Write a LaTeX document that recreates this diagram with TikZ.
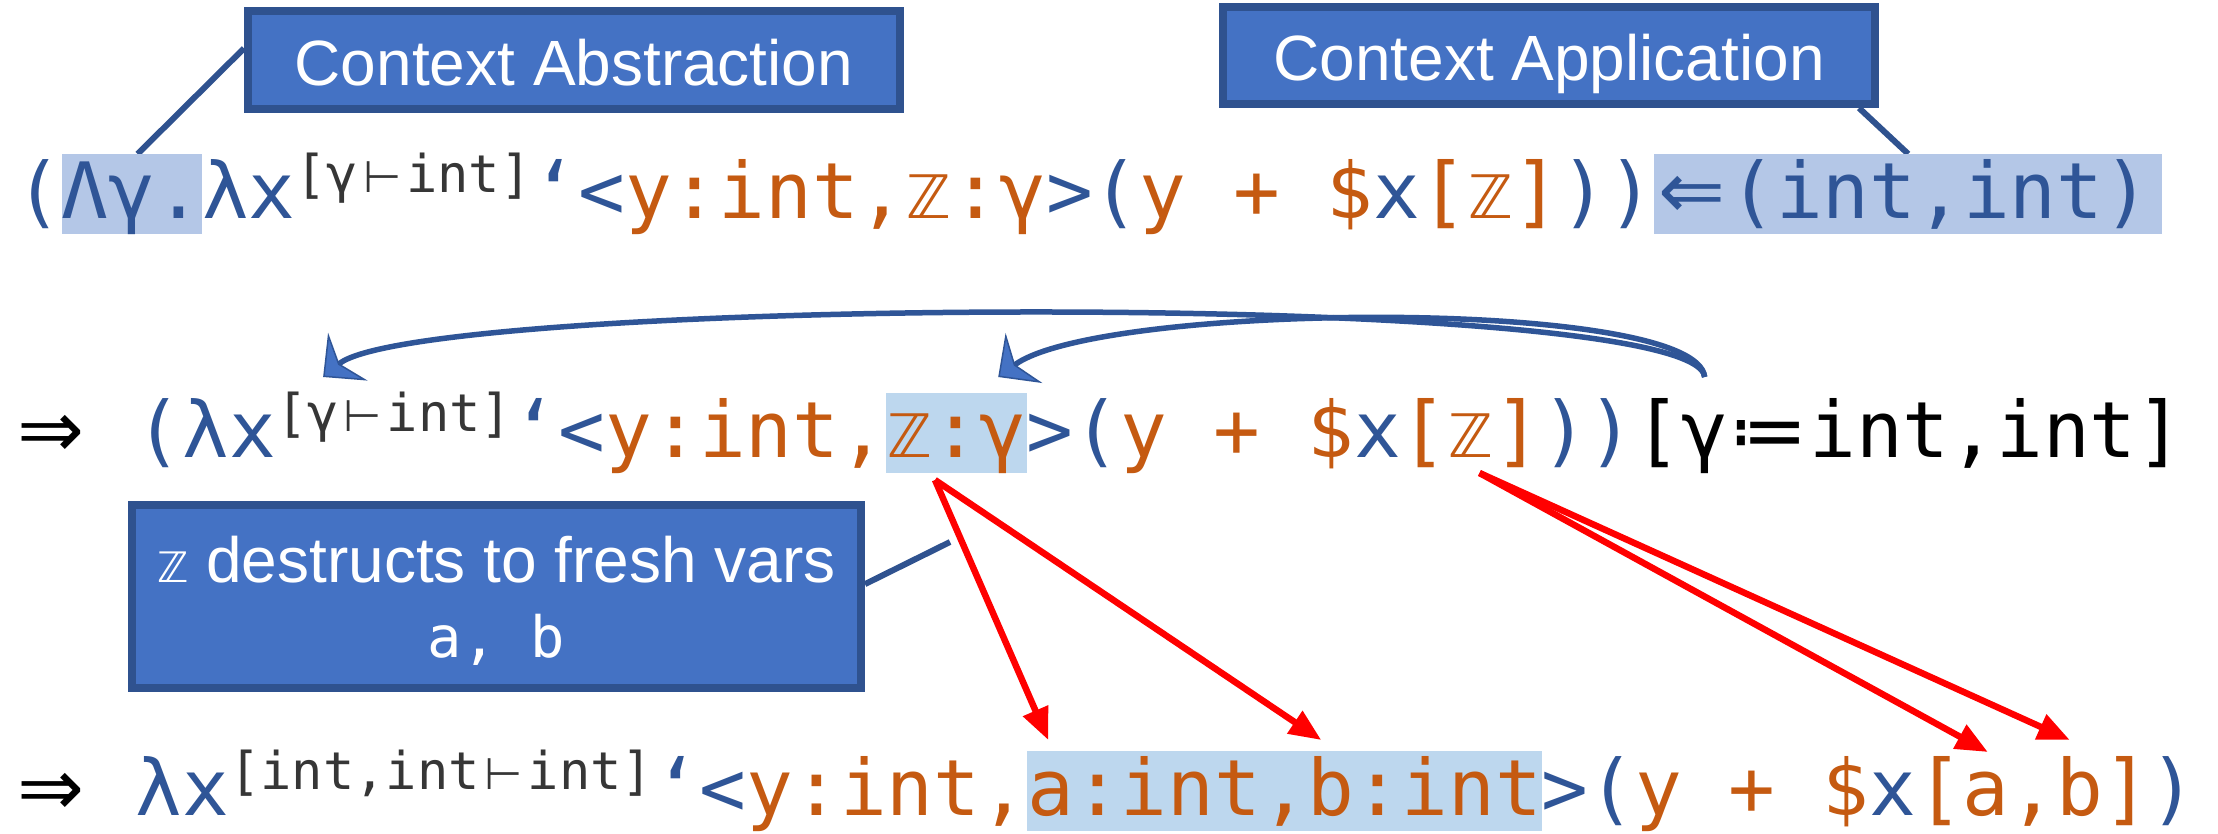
\documentclass[tikz,border=0pt]{standalone}
\usepackage{fontspec}
\setmainfont{Liberation Sans}
\newfontfamily\monof{DejaVu Sans Mono}
\newfontfamily\symf{DejaVu Sans}
\usetikzlibrary{arrows.meta,calc}

\definecolor{cblue}{HTML}{2F5597}
\definecolor{corange}{HTML}{C55A11}
\definecolor{csup}{HTML}{363636}
\definecolor{hlA}{HTML}{B4C7E7}
\definecolor{hlB}{HTML}{BDD7EE}
\definecolor{boxfill}{HTML}{4472C4}
\definecolor{boxline}{HTML}{2F528F}
\definecolor{cred}{HTML}{FF0000}

% one character cell of the code font
\newlength\cw
\setlength\cw{46.78pt}
\newcommand\mainf{\monof\fontsize{77.7}{80}\selectfont}
\newcommand\supf{\monof\fontsize{52}{54}\selectfont}
\newcommand\labelf{\fontsize{64}{75}\selectfont}
\newcommand\myZ{\makebox[\cw]{\symf\fontsize{60}{60}\selectfont ℤ}}
\newcommand\myturn{\makebox[48pt]{\symf\fontsize{44}{44}\selectfont ⊢}}
\newcommand\myassign{\makebox[81pt]{\symf ≔}}
\newcommand\myarrow[1]{\makebox[75pt]{\symf\fontsize{80}{80}\selectfont #1}}
\newcommand\cellgap{\makebox[\cw]{}}

\pgfdeclarelayer{back}
\pgfsetlayers{back,main}

\tikzset{
  seg/.style={inner sep=0pt, outer sep=0pt, anchor=base west, font=\mainf, text=cblue},
  supseg/.style={seg, font=\supf, text=csup},
  hlfirst/.style={seg, fill=hlA, text height=64pt, text depth=16pt},
  hlsecond/.style={seg, fill=hlB, text height=64pt, text depth=16pt},
  labelbox/.style={draw=boxline, fill=boxfill, line width=8pt, text=white, font=\labelf, inner sep=0pt},
  callout/.style={draw=boxline, line width=6pt},
  redarrow/.style={draw=cred, line width=6.5pt, -{Triangle[length=32pt,width=26pt]}},
  bluearc/.style={draw=cblue, line width=5.5pt,
    -{Stealth[length=32pt,width=62pt,inset=11pt,fill=boxfill,line width=1.5pt]}}
}

\begin{document}
\begin{tikzpicture}[x=1pt,y=-1pt]
\useasboundingbox (0,0) rectangle (2218,833);
\begin{pgfonlayer}{back}
  \fill[white] (0,0) rectangle (2218,833);
\end{pgfonlayer}

% line 1: context abstraction applied to a context
\node[seg] (a1) at (15,218) {(};
\node[hlfirst] (a2) at (a1.base east) {Λγ.};
\node[seg] (a3) at (a2.base east) {λx};
\node[supseg] (a4) at ($(a3.base east)+(0,-26)$) {[γ\myturn int]};
\node[seg] (a5) at ($(a4.base east)+(0,26)$) {‘<\textcolor{corange}{y:int,\myZ:γ}>(\textcolor{corange}{y + \$}x\textcolor{corange}{[\myZ]}))};
\node[hlfirst] (a6) at (a5.base east) {\myarrow{⇐}(int,int)\makebox[12pt]{}};

% line 2: substitution pending
\node[seg, text=black] (b1) at (14,457) {\myarrow{⇒}\cellgap};
\node[seg] (b2) at (b1.base east) {(λx};
\node[supseg] (b3) at ($(b2.base east)+(0,-26)$) {[γ\myturn int]};
\node[seg] (b4) at ($(b3.base east)+(0,26)$) {‘<\textcolor{corange}{y:int,}};
\node[hlsecond, text=corange] (b5) at (b4.base east) {\myZ:γ};
\node[seg] (b6) at (b5.base east) {>(\textcolor{corange}{y + \$}x\textcolor{corange}{[\myZ]}))};
\node[seg, text=black] (b7) at (b6.base east) {[γ\myassign int,int]};

% line 3: result
\node[seg, text=black] (c1) at (14,815) {\myarrow{⇒}\cellgap};
\node[seg] (c2) at (c1.base east) {λx};
\node[supseg] (c3) at ($(c2.base east)+(0,-26)$) {[int,int\myturn int]};
\node[seg] (c4) at ($(c3.base east)+(0,26)$) {‘<\textcolor{corange}{y:int,}};
\node[hlsecond, text=corange] (c5) at (c4.base east) {a:int,b:int};
\node[seg] (c6) at (c5.base east) {>(\textcolor{corange}{y + \$}x\textcolor{corange}{[a,b]})};

% labels
\node[labelbox, minimum width=652pt, minimum height=98pt, text height=50pt, text depth=0pt]
  (absbox) at (574,60) {Context Abstraction};
\node[labelbox, minimum width=652pt, minimum height=97pt, text height=50pt, text depth=0pt]
  (appbox) at (1549,55.5) {Context Application};
\node[labelbox, minimum width=729pt, minimum height=183pt] (dbox) at (496.5,596.5) {};
\node[text=white, font=\labelf, inner sep=0pt, anchor=base] (dtext1)
  at ($(dbox.center)+(0,-14.5)$) {{\symf\fontsize{42}{42}\selectfont ℤ} destructs to fresh vars};
\node[text=white, font={\monof\fontsize{57}{60}\selectfont}, inner sep=0pt, anchor=base] (dtext2)
  at ($(dbox.center)+(0,60.5)$) {a, b};

% callout lines
\coordinate (dtip) at (950,542);
\begin{pgfonlayer}{back}
  \draw[callout] ($(absbox.north west)!0.39!(absbox.south west)$) -- ($(a2.north west)!0.54!(a2.north east)$);
  \draw[callout] ($(appbox.south east)+(-20,0)$) -- (a6.north);
  \draw[callout] ($(dbox.north east)!0.435!(dbox.south east)$) -- (dtip);
\end{pgfonlayer}

% substitution of gamma
\coordinate (gs) at ($(b7.base west)+(70,-80)$);
\coordinate (gsup) at ($(b3.base west)+(47,-54)$);
\coordinate (gctx) at ($(b5.base west)+(112,-80)$);
\draw[bluearc] (gs) .. controls ($(gs)+(-8,-89)$) and ($(gsup)+(97,-80)$) .. (gsup);
\draw[bluearc] (gs) .. controls ($(gs)+(-8,-80)$) and ($(gctx)+(102,-75)$) .. (gctx);

% destructuring of the context variable
\coordinate (zdecl) at ($(b5.base west)+(48.8,23)$);
\coordinate (zuse) at ($(b6.base west)+(453,16)$);
\draw[redarrow] (zdecl) -- ($(c5.base west)+(21,-75)$);
\draw[redarrow] (zdecl) -- ($(c5.base west)+(294,-75)$);
\draw[redarrow] (zuse) -- ($(c6.base west)+(446,-63)$);
\draw[redarrow] (zuse) -- ($(c6.base west)+(528,-75)$);
\end{tikzpicture}
\end{document}
